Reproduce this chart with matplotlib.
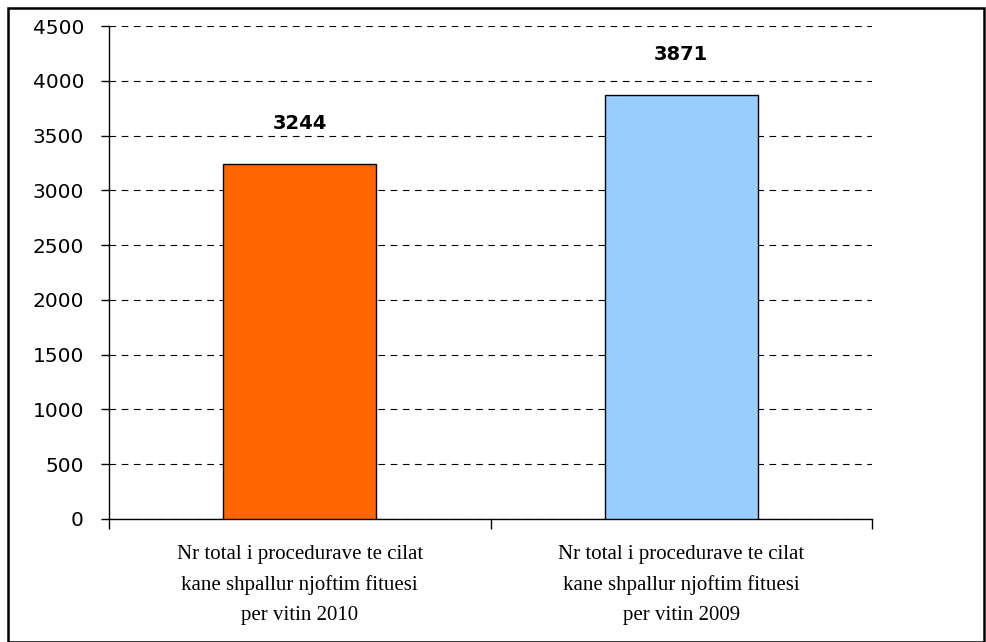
import matplotlib.pyplot as plt
from matplotlib.patches import Rectangle

categories = ["Nr total i procedurave te cilat\nkane shpallur njoftim fituesi\nper vitin 2010",
              "Nr total i procedurave te cilat\nkane shpallur njoftim fituesi\nper vitin 2009"]
values = [3244, 3871]
colors = ["#ff6600", "#99ccff"]
yticks = [0, 500, 1000, 1500, 2000, 2500, 3000, 3500, 4000, 4500]

fig = plt.figure(figsize=(9.86, 6.42), dpi=100)
ax = fig.add_axes([109/986, 1-519/642, (872-109)/986, (519-26)/642])

# outer frame
fig.patches.append(Rectangle((8/986, 0), 976/986, 634/642, transform=fig.transFigure,
                             fill=False, edgecolor="black", linewidth=1.8))

x = [0, 1]
bars = ax.bar(x, values, width=0.4, color=colors, edgecolor="black", linewidth=1, zorder=3)

for xi, v in zip(x, values):
    ax.annotate(str(v), (xi, v), xytext=(0, 29), textcoords="offset points",
                ha="center", va="center", fontsize=14, fontweight="bold",
                family="DejaVu Sans")

ax.set_xlim(-0.5, 1.5)
ax.set_ylim(0, 4500)
ax.set_yticks(yticks)
ax.set_yticklabels([str(t) for t in yticks], fontsize=14.5)
ax.yaxis.grid(True, color="black", linestyle=(0, (6, 5)), linewidth=0.8, zorder=0)
ax.set_axisbelow(True)

ax.set_xticks(x)
ax.set_xticklabels(categories, family="Liberation Serif", fontsize=15, linespacing=1.75)
ax.set_xticks([-0.5, 0.5, 1.5], minor=True)
ax.tick_params(axis="x", which="major", length=0, pad=19)
ax.tick_params(axis="x", which="minor", length=7, width=1)
ax.tick_params(axis="y", length=6, width=1, pad=12)

for s in ["top", "right"]:
    ax.spines[s].set_visible(False)
ax.spines["left"].set_linewidth(1)
ax.spines["bottom"].set_linewidth(1)

fig.savefig("out.png", dpi=100)
